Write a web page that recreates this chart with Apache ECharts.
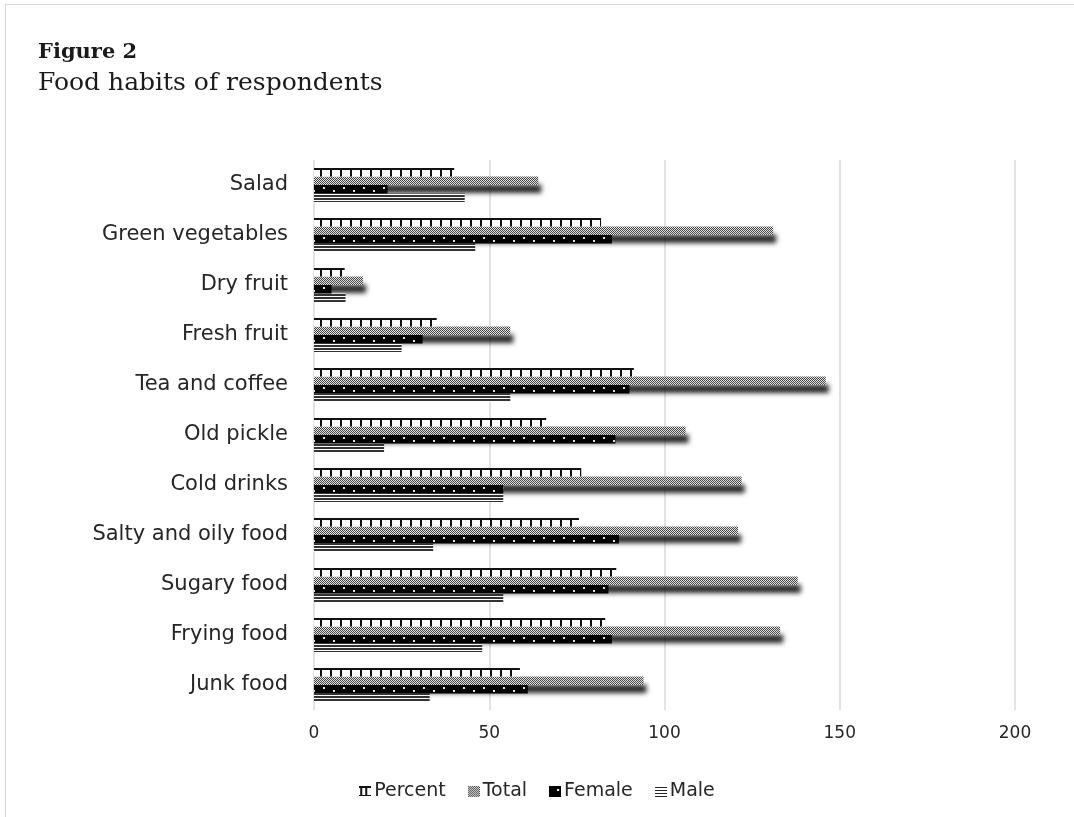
<!DOCTYPE html>
<html>
<head>
<meta charset="utf-8">
<script src="https://cdn.jsdelivr.net/npm/echarts@6/dist/echarts.min.js"></script>
<style>
html,body{margin:0;padding:0;background:#fff;}
#frame{position:absolute;left:5px;top:4px;width:1069px;height:813px;border-top:1px solid #d9d9d9;border-left:1px solid #d9d9d9;}
#chart{position:absolute;left:0;top:0;width:1074px;height:817px;}
</style>
</head>
<body>
<div id="frame"></div>
<div id="chart"></div>
<script>
const categories = ["Junk food","Frying food","Sugary food","Salty and oily food","Cold drinks","Old pickle","Tea and coffee","Fresh fruit","Dry fruit","Green vegetables","Salad"];
const percentValues = [58.75, 83.1, 86.25, 75.6, 76.25, 66.25, 91.25, 35, 8.75, 81.9, 40];
const totalValues   = [94, 133, 138, 121, 122, 106, 146, 56, 14, 131, 64];
const femaleValues  = [61, 85, 84, 87, 54, 86, 90, 31, 5, 85, 21];
const maleValues    = [33, 48, 54, 34, 54, 20, 56, 25, 9, 46, 43];
const xTicks = [0, 50, 100, 150, 200];

function tile(w, h, draw) {
  const c = document.createElement('canvas');
  c.width = w; c.height = h;
  const ctx = c.getContext('2d');
  draw(ctx);
  return c;
}
// Percent: vertical posts hanging from a top rail (tile period = category band 50px)
const percentTile = tile(10, 50, ctx => {
  ctx.fillStyle = '#fff'; ctx.fillRect(0, 0, 10, 50);
  ctx.fillStyle = '#111';
  ctx.fillRect(0, 18, 10, 2);
  ctx.fillRect(0, 18, 2, 9);
});
// Total: fine checkerboard
const totalTile = tile(2, 2, ctx => {
  ctx.fillStyle = '#e4e4e4'; ctx.fillRect(0, 0, 2, 2);
  ctx.fillStyle = '#444'; ctx.fillRect(0, 0, 1, 1); ctx.fillRect(1, 1, 1, 1);
});
// Female: black with staggered white dots
const femaleTile = tile(20, 50, ctx => {
  ctx.fillStyle = '#000'; ctx.fillRect(0, 0, 20, 50);
  ctx.fillStyle = '#e0e0e0';
  ctx.fillRect(3, 37, 2, 2);
  ctx.fillRect(13, 40, 2, 2);
});
// Male: horizontal stripes
const maleTile = tile(4, 3, ctx => {
  ctx.fillStyle = '#fff'; ctx.fillRect(0, 0, 4, 3);
  ctx.fillStyle = '#333'; ctx.fillRect(0, 0, 4, 2);
});
const pat = c => ({ image: c, repeat: 'repeat' });

// legend icons
const iconPercent = tile(12, 11, ctx => {
  ctx.fillStyle = '#fff'; ctx.fillRect(0, 0, 12, 11);
  ctx.fillStyle = '#111';
  ctx.fillRect(0, 0, 12, 2); ctx.fillRect(0, 9, 12, 1);
  ctx.fillRect(1, 0, 2, 10); ctx.fillRect(6, 0, 2, 10);
});
const iconTotal = tile(12, 11, ctx => {
  ctx.fillStyle = '#e4e4e4'; ctx.fillRect(0, 0, 12, 11);
  ctx.fillStyle = '#444';
  for (let y = 0; y < 11; y++) for (let x = 0; x < 12; x++) if ((x + y) % 2 === 0) ctx.fillRect(x, y, 1, 1);
});
const iconFemale = tile(12, 11, ctx => {
  ctx.fillStyle = '#000'; ctx.fillRect(0, 0, 12, 11);
  ctx.fillStyle = '#fff'; ctx.fillRect(8, 3, 2, 2);
});
const iconMale = tile(12, 11, ctx => {
  ctx.fillStyle = '#fff'; ctx.fillRect(0, 0, 12, 11);
  ctx.fillStyle = '#222';
  ctx.fillRect(0, 1, 12, 1); ctx.fillRect(0, 4, 12, 1); ctx.fillRect(0, 7, 12, 1); ctx.fillRect(0, 10, 12, 1);
});
const img = c => 'image://' + c.toDataURL();

const chart = echarts.init(document.getElementById('chart'));
chart.setOption({
  animation: false,
  backgroundColor: 'transparent',
  title: [
    { text: 'Figure 2', left: 33, top: 37, textStyle: { fontFamily: 'DejaVu Serif', fontWeight: 'bold', fontSize: 21, color: '#1a1a1a' } },
    { text: 'Food habits of respondents', left: 33, top: 66, textStyle: { fontFamily: 'DejaVu Serif', fontWeight: 'normal', fontSize: 25, color: '#1a1a1a' } }
  ],
  legend: {
    top: 777, left: 'center',
    data: [
      { name: 'Percent', icon: img(iconPercent) },
      { name: 'Total', icon: img(iconTotal) },
      { name: 'Female', icon: img(iconFemale) },
      { name: 'Male', icon: img(iconMale) }
    ],
    itemWidth: 12, itemHeight: 11, itemGap: 22,
    textStyle: { fontFamily: 'DejaVu Sans', fontSize: 19, color: '#262626', padding: [0, 0, 0, -2] }
  },
  grid: { left: 314, right: 59, top: 160, bottom: 107, containLabel: false },
  xAxis: {
    type: 'value', min: xTicks[0], max: xTicks[xTicks.length - 1], interval: 50,
    axisLine: { show: false }, axisTick: { show: false },
    splitLine: { show: true, lineStyle: { color: '#d9d9d9', width: 1.5 } },
    axisLabel: { fontFamily: 'DejaVu Sans', fontSize: 17, color: '#262626', margin: 15 }
  },
  yAxis: {
    type: 'category', data: categories,
    axisLine: { show: false }, axisTick: { show: false },
    axisLabel: { fontFamily: 'DejaVu Sans', fontSize: 21, color: '#262626', margin: 26 }
  },
  series: [
    { name: 'Percent', type: 'bar', data: percentValues, barGap: '0%', barCategoryGap: '32%', z: 2,
      itemStyle: { color: pat(percentTile) } },
    { name: 'Total', type: 'bar', data: totalValues, z: 1,
      itemStyle: { color: pat(totalTile), shadowColor: 'rgba(0,0,0,0.85)', shadowBlur: 5, shadowOffsetX: 3, shadowOffsetY: 8 } },
    { name: 'Female', type: 'bar', data: femaleValues, z: 3,
      itemStyle: { color: pat(femaleTile) } },
    { name: 'Male', type: 'bar', data: maleValues, z: 2,
      itemStyle: { color: pat(maleTile) } }
  ]
});
</script>
</body>
</html>
